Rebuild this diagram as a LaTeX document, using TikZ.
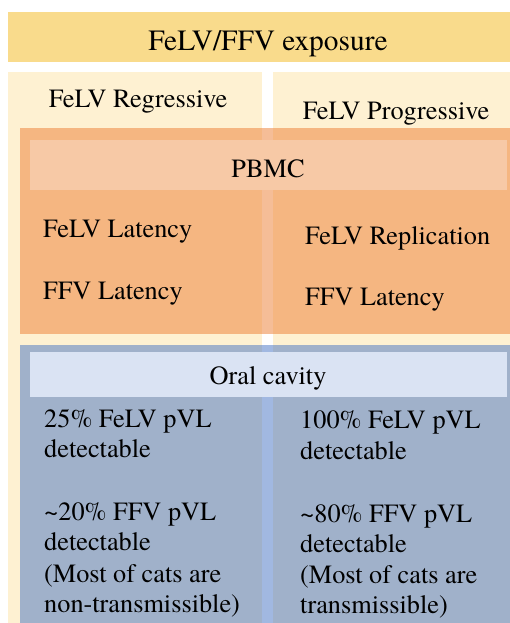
\documentclass[tikz,border=0pt]{standalone}
\usepackage{fontspec}
\newfontfamily\timesface{texgyretermes-regular.otf}
\definecolor{topbar}{HTML}{F9DB8C}
\definecolor{cream}{HTML}{FEF1D2}
\definecolor{orangebox}{HTML}{ED7D31}
\definecolor{pbmcband}{HTML}{F7C9A6}
\definecolor{bluebox}{HTML}{4472C4}
\definecolor{oralband}{HTML}{DAE3F3}
\begin{document}
\begin{tikzpicture}[x=1pt,y=-1pt,
  txt/.style={inner sep=0pt, anchor=base west, text=black,
    font=\timesface\fontsize{26.3}{31}\selectfont},
  ctxt/.style={txt, anchor=base},
  titletxt/.style={ctxt, font=\timesface\fontsize{29.4}{34}\selectfont}]
\useasboundingbox (0,0) rectangle (510,623);
\fill[white] (0,0) rectangle (510,623);

% background panels
\fill[topbar] (8,12) rectangle (510,62);
\fill[cream] (8,72) rectangle (262,623);
\fill[cream] (273,72) rectangle (510,623);

% PBMC block
\fill[orangebox, fill opacity=0.5] (20,128) rectangle (510,334);
\fill[pbmcband] (30,140) rectangle (507,190);

% oral cavity block
\fill[bluebox, fill opacity=0.5] (20,345) rectangle (510,623);
\fill[oralband] (30,352) rectangle (507,397);

% headings
\node[titletxt] (title) at (268,51) {FeLV/FFV exposure};
\node[ctxt] (regr) at (138,108) {FeLV Regressive};
\node[ctxt] (progr) at (396,119) {FeLV Progressive};
\node[ctxt] (pbmc) at (268,177) {PBMC};
\node[ctxt] (oral) at (268,384) {Oral cavity};

% PBMC contents
\node[txt] (felvlat) at (43,237) {FeLV Latency};
\node[txt] (ffvlatL) at (43,299) {FFV Latency};
\node[txt] (felvrep) at (305,244) {FeLV Replication};
\node[txt] (ffvlatR) at (305,305) {FFV Latency};

% oral cavity, regressive column
\node[txt] (l1) at (44,427) {25\% FeLV pVL};
\node[txt] (l2) at (44,457) {detectable};
\node[txt] (l3) at (44,520) {\textasciitilde20\% FFV pVL};
\node[txt] (l4) at (44,550) {detectable};
\node[txt] (l5) at (44,582) {(Most of cats are};
\node[txt] (l6) at (44,612) {non-transmissible)};

% oral cavity, progressive column
\node[txt] (r1) at (300,428) {100\% FeLV pVL};
\node[txt] (r2) at (300,459) {detectable};
\node[txt] (r3) at (300,522) {\textasciitilde80\% FFV pVL};
\node[txt] (r4) at (300,552) {detectable};
\node[txt] (r5) at (300,583) {(Most of cats are};
\node[txt] (r6) at (300,613) {transmissible)};
\end{tikzpicture}
\end{document}
